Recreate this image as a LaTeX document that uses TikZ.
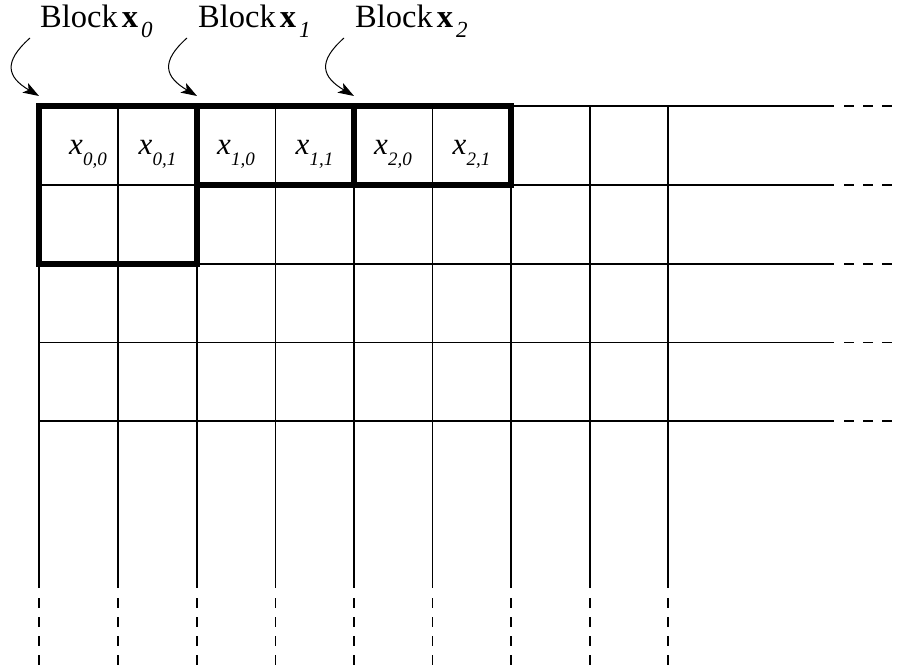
\documentclass[tikz,border=0pt]{standalone}
\usepackage{fontspec}
\setmainfont{Liberation Serif}
\usetikzlibrary{arrows.meta}
\newcommand{\cellsub}[1]{\raisebox{-11pt}{\fontsize{19}{19}\selectfont\textit{#1}}}
\newcommand{\blksub}[1]{\raisebox{-10pt}{\fontsize{23}{23}\selectfont\textit{#1}}}
\tikzset{
  gridline/.style={line width=1.1pt, black},
  griddash/.style={line width=1.1pt, black, dash pattern=on 9.5pt off 9.5pt},
  blk/.style={draw, line width=6.5pt, inner sep=0pt, outer sep=0pt, black},
  lbl/.style={inner sep=0pt, font=\fontsize{32.5}{32.5}\selectfont, anchor=base west},
  cell/.style={inner sep=0pt, font=\fontsize{31}{31}\selectfont, anchor=base},
  arr/.style={line width=1pt, -{Stealth[length=16pt,width=11pt,inset=4pt]}}
}
\begin{document}
\begin{tikzpicture}[x=1pt,y=-1pt]
\useasboundingbox (0,0) rectangle (898,668);
% grid
\foreach \xx in {39,118,197,275.5,354,432.5,511,590,668}{
  \draw[gridline] (\xx,106) -- (\xx,588);
  \draw[griddash] (\xx,598) -- (\xx,668);
}
\foreach \yy in {106,185,264,342.5,421}{
  \draw[gridline] (39,\yy) -- (834,\yy);
  \draw[griddash] (844,\yy) -- (898,\yy);
}
% thick blocks
\node[blk, minimum width=158pt, minimum height=158pt] (B0) at (118,185) {};
\node[blk, minimum width=157pt, minimum height=79pt] (B1) at (275.5,145.5) {};
\node[blk, minimum width=157pt, minimum height=79pt] (B2) at (432.5,145.5) {};
% cell labels
\node[cell] (c00) at (88,155) {\textit{x}\cellsub{0,0}};
\node[cell] (c01) at (157.5,155) {\textit{x}\cellsub{0,1}};
\node[cell] (c10) at (236,155) {\textit{x}\cellsub{1,0}};
\node[cell] (c11) at (314.5,155) {\textit{x}\cellsub{1,1}};
\node[cell] (c20) at (393,155) {\textit{x}\cellsub{2,0}};
\node[cell] (c21) at (471.5,155) {\textit{x}\cellsub{2,1}};
% block labels
\node[lbl] (L0) at (40,28) {Block\hspace{4pt}\textbf{x}\hspace{3pt}\blksub{0}};
\node[lbl] (L1) at (198,28) {Block\hspace{4pt}\textbf{x}\hspace{3pt}\blksub{1}};
\node[lbl] (L2) at (355,28) {Block\hspace{4pt}\textbf{x}\hspace{3pt}\blksub{2}};
% arrows
\coordinate (s0) at (30,38);
\coordinate (s1) at (187,38);
\coordinate (s2) at (344,38);
\draw[arr] (s0) .. controls +(-27,24) and +(-32,-19) .. ([yshift=10pt]B0.north west);
\draw[arr] (s1) .. controls +(-27,24) and +(-32,-19) .. ([yshift=10pt]B1.north west);
\draw[arr] (s2) .. controls +(-27,24) and +(-32,-19) .. ([yshift=10pt]B2.north west);
\end{tikzpicture}
\end{document}
